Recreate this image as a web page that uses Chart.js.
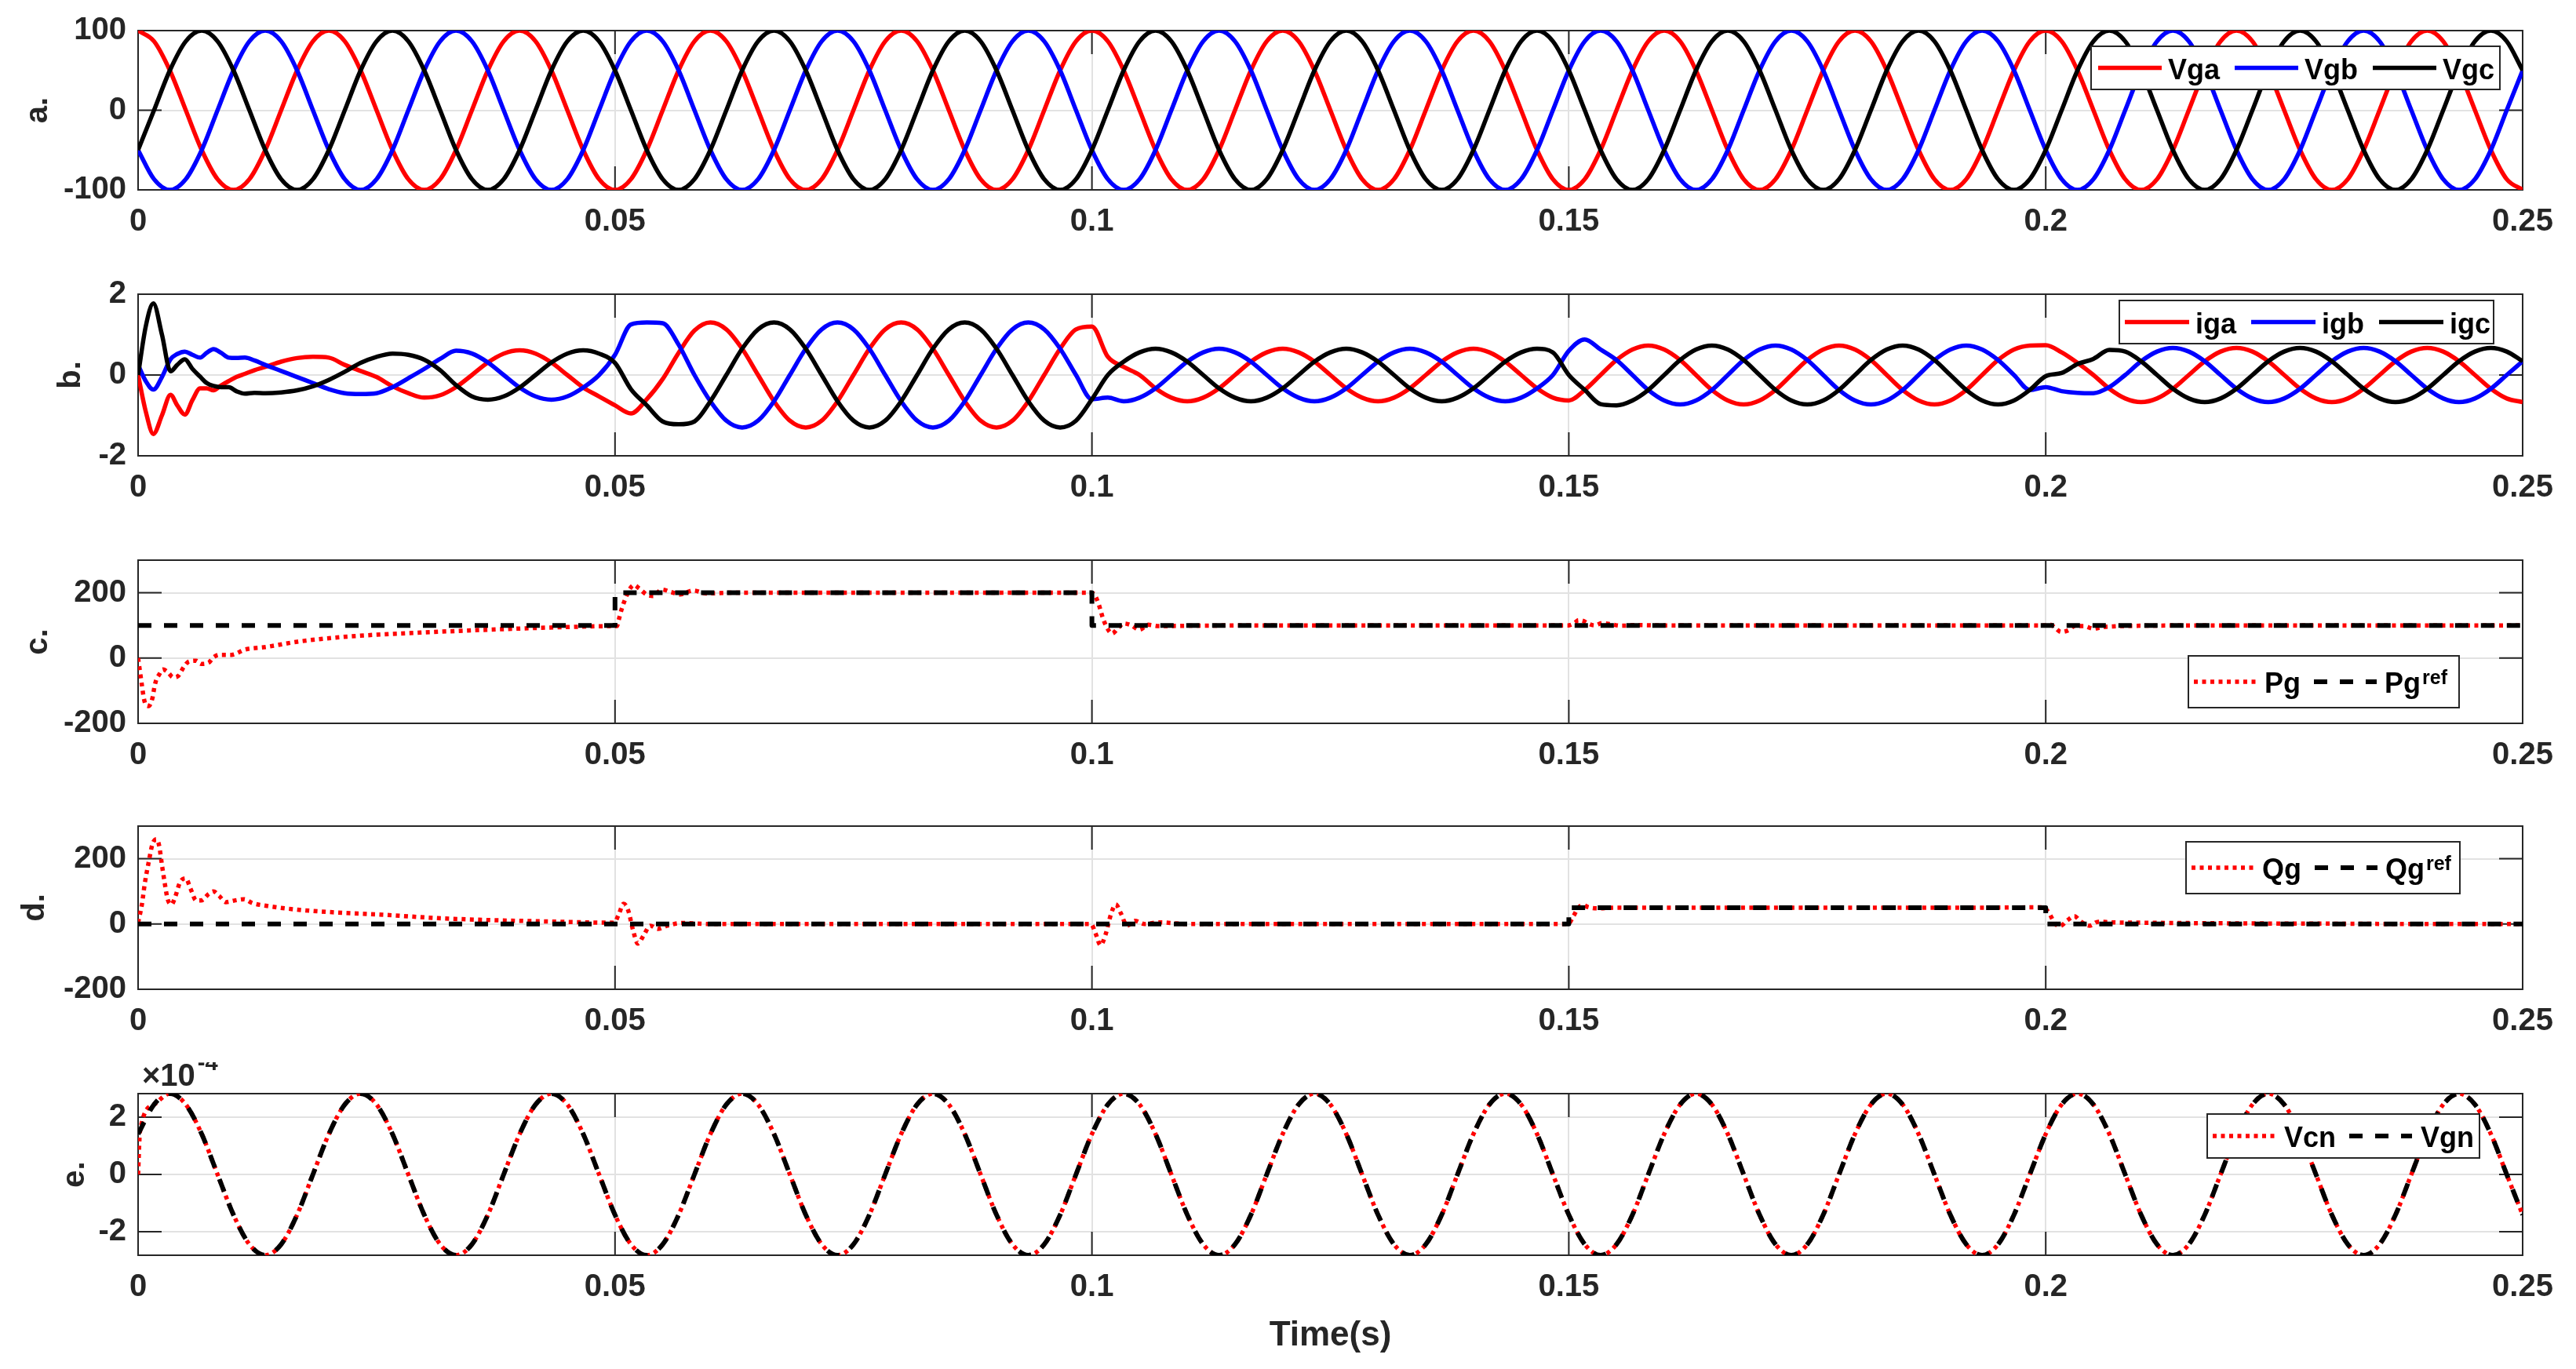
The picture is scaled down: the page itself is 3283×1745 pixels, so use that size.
<!DOCTYPE html>
<html>
<head>
<meta charset="utf-8">
<script src="https://cdn.jsdelivr.net/npm/chart.js@4.4.1/dist/chart.umd.min.js"></script>
<style>
  html, body { margin: 0; padding: 0; background: #fff; }
  body { position: relative; width: 3283px; height: 1745px; overflow: hidden; }
  canvas { position: absolute; left: 0; }
</style>
</head>
<body>
<canvas id="pa" width="3283" height="332" style="top:0px"></canvas>
<canvas id="pb" width="3283" height="336" style="top:335px"></canvas>
<canvas id="pc" width="3283" height="338" style="top:674px"></canvas>
<canvas id="pd" width="3283" height="338" style="top:1013px"></canvas>
<canvas id="pe" width="3283" height="391" style="top:1354px"></canvas>
<script>
const FONT = "'Liberation Sans', Arial, Helvetica, sans-serif";
const INK = '#262626';
const GRID = '#e2e2e2';

// time axis (s)
const xTicks = [0, 0.05, 0.1, 0.15, 0.2, 0.25];
const xTickLabels = ['0', '0.05', '0.1', '0.15', '0.2', '0.25'];

// sample times, every 1/600 s
const tA = [
  0,0.00167,0.00333,0.005,0.00667,0.00833,0.01,0.01167,0.01333,0.015,0.01667,0.01833,
  0.02,0.02167,0.02333,0.025,0.02667,0.02833,0.03,0.03167,0.03333,0.035,0.03667,0.03833,
  0.04,0.04167,0.04333,0.045,0.04667,0.04833,0.05,0.05167,0.05333,0.055,0.05667,0.05833,
  0.06,0.06167,0.06333,0.065,0.06667,0.06833,0.07,0.07167,0.07333,0.075,0.07667,0.07833,
  0.08,0.08167,0.08333,0.085,0.08667,0.08833,0.09,0.09167,0.09333,0.095,0.09667,0.09833,
  0.1,0.10167,0.10333,0.105,0.10667,0.10833,0.11,0.11167,0.11333,0.115,0.11667,0.11833,
  0.12,0.12167,0.12333,0.125,0.12667,0.12833,0.13,0.13167,0.13333,0.135,0.13667,0.13833,
  0.14,0.14167,0.14333,0.145,0.14667,0.14833,0.15,0.15167,0.15333,0.155,0.15667,0.15833,
  0.16,0.16167,0.16333,0.165,0.16667,0.16833,0.17,0.17167,0.17333,0.175,0.17667,0.17833,
  0.18,0.18167,0.18333,0.185,0.18667,0.18833,0.19,0.19167,0.19333,0.195,0.19667,0.19833,
  0.2,0.20167,0.20333,0.205,0.20667,0.20833,0.21,0.21167,0.21333,0.215,0.21667,0.21833,
  0.22,0.22167,0.22333,0.225,0.22667,0.22833,0.23,0.23167,0.23333,0.235,0.23667,0.23833,
  0.24,0.24167,0.24333,0.245,0.24667,0.24833,0.25
];

// a. grid voltages
const vga = [
  100,86.6,50,0,-50,-86.6,-100,-86.6,-50,0,50,86.6, 100,86.6,50,0,-50,-86.6,-100,-86.6,-50,0,50,86.6,
  100,86.6,50,0,-50,-86.6,-100,-86.6,-50,0,50,86.6, 100,86.6,50,0,-50,-86.6,-100,-86.6,-50,0,50,86.6,
  100,86.6,50,0,-50,-86.6,-100,-86.6,-50,0,50,86.6, 100,86.6,50,0,-50,-86.6,-100,-86.6,-50,0,50,86.6,
  100,86.6,50,0,-50,-86.6,-100,-86.6,-50,0,50,86.6, 100,86.6,50,0,-50,-86.6,-100,-86.6,-50,0,50,86.6,
  100,86.6,50,0,-50,-86.6,-100,-86.6,-50,0,50,86.6, 100,86.6,50,0,-50,-86.6,-100,-86.6,-50,0,50,86.6,
  100,86.6,50,0,-50,-86.6,-100,-86.6,-50,0,50,86.6, 100,86.6,50,0,-50,-86.6,-100,-86.6,-50,0,50,86.6,
  100,86.6,50,0,-50,-86.6,-100
];
const vgb = [
  -50,-86.6,-100,-86.6,-50,0,50,86.6,100,86.6,50,0, -50,-86.6,-100,-86.6,-50,0,50,86.6,100,86.6,50,0,
  -50,-86.6,-100,-86.6,-50,0,50,86.6,100,86.6,50,0, -50,-86.6,-100,-86.6,-50,0,50,86.6,100,86.6,50,0,
  -50,-86.6,-100,-86.6,-50,0,50,86.6,100,86.6,50,0, -50,-86.6,-100,-86.6,-50,0,50,86.6,100,86.6,50,0,
  -50,-86.6,-100,-86.6,-50,0,50,86.6,100,86.6,50,0, -50,-86.6,-100,-86.6,-50,0,50,86.6,100,86.6,50,0,
  -50,-86.6,-100,-86.6,-50,0,50,86.6,100,86.6,50,0, -50,-86.6,-100,-86.6,-50,0,50,86.6,100,86.6,50,0,
  -50,-86.6,-100,-86.6,-50,0,50,86.6,100,86.6,50,0, -50,-86.6,-100,-86.6,-50,0,50,86.6,100,86.6,50,0,
  -50,-86.6,-100,-86.6,-50,0,50
];
const vgc = [
  -50,0,50,86.6,100,86.6,50,0,-50,-86.6,-100,-86.6, -50,0,50,86.6,100,86.6,50,0,-50,-86.6,-100,-86.6,
  -50,0,50,86.6,100,86.6,50,0,-50,-86.6,-100,-86.6, -50,0,50,86.6,100,86.6,50,0,-50,-86.6,-100,-86.6,
  -50,0,50,86.6,100,86.6,50,0,-50,-86.6,-100,-86.6, -50,0,50,86.6,100,86.6,50,0,-50,-86.6,-100,-86.6,
  -50,0,50,86.6,100,86.6,50,0,-50,-86.6,-100,-86.6, -50,0,50,86.6,100,86.6,50,0,-50,-86.6,-100,-86.6,
  -50,0,50,86.6,100,86.6,50,0,-50,-86.6,-100,-86.6, -50,0,50,86.6,100,86.6,50,0,-50,-86.6,-100,-86.6,
  -50,0,50,86.6,100,86.6,50,0,-50,-86.6,-100,-86.6, -50,0,50,86.6,100,86.6,50,0,-50,-86.6,-100,-86.6,
  -50,0,50,86.6,100,86.6,50
];

// b. grid currents (start-up samples, then the 1/600 s grid from 0.01333 s)
const tBStart = [0,0.0008,0.0016,0.0025,0.0034,0.0041,0.0049,0.0057,0.0065,0.0072,0.0079,0.0087,0.0095,0.0103,0.0112,0.0122];
const iga = [
  0,-0.9,-1.46,-1.0,-0.49,-0.75,-0.98,-0.62,-0.33,-0.33,-0.38,-0.26,-0.15,-0.05,0.03,0.12,
  0.2,0.33,0.42,0.45,0.43,0.25,0.1,-0.05,-0.28,-0.45,-0.56,-0.5,-0.3,
  0,0.31,0.53,0.61,0.53,0.31,0,-0.31,-0.53,
  -0.75,-0.95,-0.6,-0.1,0.55,1.1,
  1.3,1.13,0.65,0,-0.65,-1.13,-1.3,-1.13,-0.65,0,0.65,1.13,
  1.3,1.13,0.65,0,-0.65,-1.13,-1.3,-1.13,-0.65,0,0.65,1.13,
  1.2,0.45,0.2,0,-0.33,-0.56,-0.65,-0.56,-0.33,0,0.33,0.56,
  0.65,0.56,0.33,0,-0.33,-0.56,-0.65,-0.56,-0.33,0,0.33,0.56,
  0.65,0.56,0.33,0,-0.33,-0.56,
  -0.63,-0.37,0,0.37,0.63,0.73, 0.63,0.37,0,-0.37,-0.63,-0.73,
  -0.63,-0.37,0,0.37,0.63,0.73, 0.63,0.37,0,-0.37,-0.63,-0.73,
  -0.63,-0.37,0,0.37,0.63,0.73,
  0.74,0.56,0.3,0,-0.34,-0.58,-0.67,-0.58,-0.34,0,0.34,0.58,
  0.67,0.58,0.34,0,-0.34,-0.58,-0.67,-0.58,-0.34,0,0.34,0.58,
  0.67,0.58,0.34,0,-0.34,-0.58,-0.67
];
const igb = [
  0.25,-0.15,-0.36,-0.05,0.39,0.52,0.58,0.5,0.43,0.55,0.64,0.55,0.43,0.42,0.43,0.36,
  0.25,0.1,-0.05,-0.2,-0.35,-0.45,-0.47,-0.45,-0.3,-0.08,0.15,0.4,0.6,
  0.53,0.31,0,-0.31,-0.53,-0.61,-0.53,-0.31,0,
  0.5,1.25,1.3,1.28,0.75,0,
  -0.65,-1.13,-1.3,-1.13,-0.65,0,0.65,1.13,1.3,1.13,0.65,0,
  -0.65,-1.13,-1.3,-1.13,-0.65,0,0.65,1.13,1.3,1.13,0.65,0,
  -0.6,-0.56,-0.65,-0.56,-0.33,0,0.33,0.56,0.65,0.56,0.33,0,
  -0.33,-0.56,-0.65,-0.56,-0.33,0,0.33,0.56,0.65,0.56,0.33,0,
  -0.33,-0.56,-0.65,-0.56,-0.33,0,
  0.6,0.88,0.63,0.37,0,-0.37, -0.63,-0.73,-0.63,-0.37,0,0.37,
  0.63,0.73,0.63,0.37,0,-0.37, -0.63,-0.73,-0.63,-0.37,0,0.37,
  0.63,0.73,0.63,0.37,0,-0.37,
  -0.3,-0.4,-0.44,-0.45,-0.3,0,0.34,0.58,0.67,0.58,0.34,0,
  -0.34,-0.58,-0.67,-0.58,-0.34,0,0.34,0.58,0.67,0.58,0.34,0,
  -0.34,-0.58,-0.67,-0.58,-0.34,0,0.34
];
const igc = [
  0,1.2,1.77,1.0,0.09,0.25,0.39,0.15,-0.04,-0.2,-0.27,-0.3,-0.3,-0.4,-0.46,-0.44,
  -0.45,-0.43,-0.38,-0.28,-0.12,0.08,0.3,0.45,0.53,0.5,0.38,0.12,-0.25,
  -0.53,-0.61,-0.53,-0.31,0,0.31,0.53,0.61,0.53,
  0.3,-0.35,-0.75,-1.15,-1.22,-1.15,
  -0.65,0,0.65,1.13,1.3,1.13,0.65,0,-0.65,-1.13,-1.3,-1.13,
  -0.65,0,0.65,1.13,1.3,1.13,0.65,0,-0.65,-1.13,-1.3,-1.13,
  -0.6,0,0.33,0.56,0.65,0.56,0.33,0,-0.33,-0.56,-0.65,-0.56,
  -0.33,0,0.33,0.56,0.65,0.56,0.33,0,-0.33,-0.56,-0.65,-0.56,
  -0.33,0,0.33,0.56,0.65,0.56,
  0,-0.37,-0.72,-0.75,-0.63,-0.37, 0,0.37,0.63,0.73,0.63,0.37,
  0,-0.37,-0.63,-0.73,-0.63,-0.37, 0,0.37,0.63,0.73,0.63,0.37,
  0,-0.37,-0.63,-0.73,-0.63,-0.37,
  -0.03,0.05,0.27,0.4,0.62,0.58,0.34,0,-0.34,-0.58,-0.67,-0.58,
  -0.34,0,0.34,0.58,0.67,0.58,0.34,0,-0.34,-0.58,-0.67,-0.58,
  -0.34,0,0.34,0.58,0.67,0.58,0.34
];

// c. active power
const tPg = [
  0,0.0002,0.0004,0.0006,0.0008,0.0011,0.0015,0.0017,0.0019,0.0022,0.0026,0.0031,0.0037,0.0042,0.0048,0.0053,
  0.0061,0.0066,0.0074,0.0079,0.0085,0.0098,0.0112,0.0134,0.0167,0.0204,0.0241,0.0296,0.0351,0.0406,0.045,0.0499,
  0.0502,0.0504,0.0507,0.0511,0.0516,0.052,0.0525,0.0533,0.054,0.0549,0.0559,0.0568,0.0582,0.0596,0.062,0.07,0.08,0.09,0.0999,
  0.10025,0.1007,0.1012,0.1017,0.1021,0.1027,0.1033,0.104,0.105,0.1059,0.107,0.11,0.12,0.13,0.14,0.1499,
  0.1503,0.1507,0.151,0.1515,0.152,0.1527,0.1535,0.1545,0.1555,0.157,0.16,0.17,0.18,0.19,0.1999,
  0.2005,0.201,0.2016,0.2025,0.203,0.204,0.205,0.2058,0.207,0.21,0.22,0.23,0.24,0.25
];
const pg = [
  0,-42,-83,-123,-143,-147,-123,-91,-67,-51,-35,-43,-59,-55,-27,-11,
  -8,-18,-14,2,10,10,26,34,50,62,70,78,85,91,95,98,
  98,118,150,183,214,224,214,195,190,210,202,195,207,198,200,200,200,200,200,
  195,166,118,87,75,90,106,102,87,102,98,99,100,100,100,100,
  103,110,116,114,106,100,107,103,99,101,100,100,100,100,100,
  102,92,80,87,98,98,90,94,97,99,100,100,100,100
];
const tPgRef = [0, 0.05, 0.05, 0.1, 0.1, 0.25];
const pgRef = [100, 100, 200, 200, 100, 100];

// d. reactive power
const tQg = [
  0,0.0004,0.0007,0.0011,0.0015,0.0019,0.0022,0.0025,0.0028,0.0031,0.0035,0.0039,0.0044,0.005,0.0055,0.0061,
  0.0066,0.0074,0.0079,0.0085,0.0092,0.0101,0.0111,0.012,0.0134,0.0167,0.0204,0.0259,0.0314,0.0369,0.0428,0.0499,
  0.0504,0.0509,0.0514,0.0519,0.0524,0.053,0.0537,0.0545,0.0555,0.057,0.06,0.07,0.08,0.09,0.0999,
  0.1004,0.1009,0.1014,0.102,0.1025,0.103,0.1037,0.1045,0.1055,0.107,0.11,0.12,0.13,0.14,0.1499,
  0.1505,0.151,0.1515,0.152,0.153,0.155,0.16,0.17,0.18,0.19,0.1997,
  0.2003,0.201,0.2015,0.2023,0.203,0.2037,0.2046,0.2055,0.207,0.21,0.22,0.23,0.24,0.25
];
const qg = [
  4,60,124,188,244,260,241,181,124,76,60,84,128,140,108,72,
  72,92,100,86,67,72,76,64,56,44,36,28,18,12,8,4,
  30,62,40,-20,-60,-35,-5,-15,-5,3,0,0,0,0,0,
  -30,-65,-35,30,60,35,-5,10,0,5,0,0,0,0,0,
  25,50,58,52,48,50,50,50,50,50,51,
  36,0,-6,12,24,7,-5,7,5,4,2,1,0,0
];
const tQgRef = [0, 0.15, 0.15, 0.2, 0.2, 0.25];
const qgRef = [0, 0, 50, 50, 0, 0];

// e. neutral voltages (x 1e-4)
const tVcn = [0, 0.0002].concat(tA.slice(1));
const vcn = [
  0,1.5,2.44,2.82,2.44,1.41,0,-1.41,-2.44,-2.82,-2.44,-1.41,0,
  1.41,2.44,2.82,2.44,1.41,0,-1.41,-2.44,-2.82,-2.44,-1.41,0, 1.41,2.44,2.82,2.44,1.41,0,-1.41,-2.44,-2.82,-2.44,-1.41,0,
  1.41,2.44,2.82,2.44,1.41,0,-1.41,-2.44,-2.82,-2.44,-1.41,0, 1.41,2.44,2.82,2.44,1.41,0,-1.41,-2.44,-2.82,-2.44,-1.41,0,
  1.41,2.44,2.82,2.44,1.41,0,-1.41,-2.44,-2.82,-2.44,-1.41,0, 1.41,2.44,2.82,2.44,1.41,0,-1.41,-2.44,-2.82,-2.44,-1.41,0,
  1.41,2.44,2.82,2.44,1.41,0,-1.41,-2.44,-2.82,-2.44,-1.41,0, 1.41,2.44,2.82,2.44,1.41,0,-1.41,-2.44,-2.82,-2.44,-1.41,0,
  1.41,2.44,2.82,2.44,1.41,0,-1.41,-2.44,-2.82,-2.44,-1.41,0, 1.41,2.44,2.82,2.44,1.41,0,-1.41,-2.44,-2.82,-2.44,-1.41,0,
  1.41,2.44,2.82,2.44,1.41,0,-1.41,-2.44,-2.82,-2.44,-1.41,0,
  1.41,2.44,2.82,2.44,1.41,0,-1.41
];
const vgn = [
  1.41,2.44,2.82,2.44,1.41,0,-1.41,-2.44,-2.82,-2.44,-1.41,0, 1.41,2.44,2.82,2.44,1.41,0,-1.41,-2.44,-2.82,-2.44,-1.41,0,
  1.41,2.44,2.82,2.44,1.41,0,-1.41,-2.44,-2.82,-2.44,-1.41,0, 1.41,2.44,2.82,2.44,1.41,0,-1.41,-2.44,-2.82,-2.44,-1.41,0,
  1.41,2.44,2.82,2.44,1.41,0,-1.41,-2.44,-2.82,-2.44,-1.41,0, 1.41,2.44,2.82,2.44,1.41,0,-1.41,-2.44,-2.82,-2.44,-1.41,0,
  1.41,2.44,2.82,2.44,1.41,0,-1.41,-2.44,-2.82,-2.44,-1.41,0, 1.41,2.44,2.82,2.44,1.41,0,-1.41,-2.44,-2.82,-2.44,-1.41,0,
  1.41,2.44,2.82,2.44,1.41,0,-1.41,-2.44,-2.82,-2.44,-1.41,0, 1.41,2.44,2.82,2.44,1.41,0,-1.41,-2.44,-2.82,-2.44,-1.41,0,
  1.41,2.44,2.82,2.44,1.41,0,-1.41,-2.44,-2.82,-2.44,-1.41,0, 1.41,2.44,2.82,2.44,1.41,0,-1.41,-2.44,-2.82,-2.44,-1.41,0,
  1.41,2.44,2.82,2.44,1.41,0,-1.41
];

function xy(ts, vs) {
  return vs.map((v, i) => ({ x: ts[i], y: v }));
}

const SOLID = { borderWidth: 5.5, cubicInterpolationMode: 'monotone' };
const DOT = { borderColor: '#ff0000', borderWidth: 5.5, borderDash: [5, 5.5], cubicInterpolationMode: 'monotone' };
const DASH = { borderColor: '#000000', borderWidth: 6, borderDash: [17, 16], tension: 0 };

// box, inward ticks, legend and exponent label, MATLAB-like
const frame = {
  id: 'frame',
  beforeDatasetsDraw(chart) {
    const { ctx, chartArea: a, scales: { x, y } } = chart;
    ctx.save();
    ctx.strokeStyle = INK;
    ctx.lineWidth = 2;
    ctx.beginPath();
    x.ticks.forEach(t => {
      const px = x.getPixelForValue(t.value);
      ctx.moveTo(px, a.top); ctx.lineTo(px, a.top + 30);
      ctx.moveTo(px, a.bottom); ctx.lineTo(px, a.bottom - 30);
    });
    y.ticks.forEach(t => {
      const py = y.getPixelForValue(t.value);
      ctx.moveTo(a.left, py); ctx.lineTo(a.left + 30, py);
      ctx.moveTo(a.right, py); ctx.lineTo(a.right - 30, py);
    });
    ctx.stroke();
    ctx.strokeRect(a.left, a.top, a.right - a.left, a.bottom - a.top);
    ctx.restore();
  },
  afterDraw(chart, args, opts) {
    const { ctx, chartArea: a } = chart;
    ctx.save();
    if (opts.exponent) {
      ctx.fillStyle = INK;
      ctx.textBaseline = 'alphabetic';
      ctx.textAlign = 'left';
      ctx.font = 'bold 40px ' + FONT;
      ctx.fillText('\u00d710', a.left + 5, a.top - 10);
      const w = ctx.measureText('\u00d710').width;
      ctx.font = 'bold 29px ' + FONT;
      ctx.fillText(opts.exponent, a.left + 8 + w, a.top - 30);
    }
    const lg = opts.legend;
    if (lg) {
      const x0 = a.right - lg.right - lg.w;
      const y0 = a.top + lg.top;
      const cy = y0 + lg.h / 2;
      ctx.fillStyle = '#fff';
      ctx.fillRect(x0, y0, lg.w, lg.h);
      ctx.strokeStyle = INK;
      ctx.lineWidth = 2;
      ctx.strokeRect(x0, y0, lg.w, lg.h);
      let x = x0 + lg.pad;
      lg.items.forEach(i => {
        const ds = chart.data.datasets[i];
        ctx.strokeStyle = ds.borderColor;
        ctx.lineWidth = ds.borderWidth;
        ctx.setLineDash(ds.borderDash || []);
        ctx.lineCap = 'butt';
        ctx.beginPath();
        ctx.moveTo(x, cy); ctx.lineTo(x + lg.lineLen, cy);
        ctx.stroke();
        ctx.setLineDash([]);
        x += lg.lineLen + lg.gap;
        ctx.fillStyle = '#000';
        ctx.textAlign = 'left';
        ctx.textBaseline = 'alphabetic';
        ctx.font = 'bold 36px ' + FONT;
        ctx.fillText(ds.label, x, cy + 14);
        x += ctx.measureText(ds.label).width;
        if (ds.sup) {
          ctx.font = 'bold 25px ' + FONT;
          ctx.fillText(ds.sup, x + 2, cy + 3);
          x += ctx.measureText(ds.sup).width + 2;
        }
        x += lg.itemGap;
      });
    }
    ctx.restore();
  }
};

function makeChart(id, cfg) {
  const tickFont = { family: FONT, size: 40, weight: 'bold' };
  return new Chart(document.getElementById(id), {
    type: 'line',
    data: { datasets: cfg.datasets },
    options: {
      responsive: false,
      animation: false,
      events: [],
      layout: { padding: { top: cfg.padTop, right: 68, left: 0, bottom: 0 } },
      elements: { point: { radius: 0 }, line: { borderCapStyle: 'butt', borderJoinStyle: 'round' } },
      plugins: { legend: { display: false }, tooltip: { enabled: false }, frame: cfg.frame },
      scales: {
        x: {
          type: 'linear', min: 0, max: 0.25,
          afterBuildTicks: s => { s.ticks = xTicks.map(v => ({ value: v })); },
          afterFit: s => { s.height = cfg.axisH; },
          grid: { color: GRID, lineWidth: 2, drawTicks: false },
          border: { display: false },
          ticks: { padding: 17, color: INK, font: tickFont, autoSkip: false, maxRotation: 0,
                   callback: (v, i) => xTickLabels[i] },
          title: cfg.xTitle || { display: false }
        },
        y: {
          type: 'linear', min: cfg.yMin, max: cfg.yMax,
          afterBuildTicks: s => { s.ticks = cfg.yTicks.map(v => ({ value: v })); },
          afterFit: s => { s.width = 176; },
          grid: { color: GRID, lineWidth: 2, drawTicks: false },
          border: { display: false },
          ticks: { padding: 15, color: INK, font: tickFont, callback: (v, i) => cfg.yTickLabels[i] },
          title: { display: true, text: cfg.yTitle, color: INK, font: tickFont,
                   padding: { top: cfg.yTitlePad, bottom: 0 } }
        }
      }
    },
    plugins: [frame]
  });
}

makeChart('pa', {
  padTop: 37, axisH: 90, yMin: -100, yMax: 100,
  yTicks: [-100, 0, 100], yTickLabels: ['-100', '0', '100'], yTitle: 'a.', yTitlePad: 25,
  datasets: [
    { label: 'Vga', data: xy(tA, vga), borderColor: '#ff0000', order: 3, ...SOLID },
    { label: 'Vgb', data: xy(tA, vgb), borderColor: '#0000ff', order: 2, ...SOLID },
    { label: 'Vgc', data: xy(tA, vgc), borderColor: '#000000', order: 1, ...SOLID }
  ],
  frame: { legend: { right: 29, top: 20, w: 521, h: 55, pad: 9, lineLen: 81, gap: 8, itemGap: 19, items: [0, 1, 2] } }
});

const tB = tBStart.concat(tA.slice(8));
makeChart('pb', {
  padTop: 40, axisH: 90, yMin: -2, yMax: 2,
  yTicks: [-2, 0, 2], yTickLabels: ['-2', '0', '2'], yTitle: 'b.', yTitlePad: 67,
  datasets: [
    { label: 'iga', data: xy(tB, iga), borderColor: '#ff0000', order: 3, ...SOLID },
    { label: 'igb', data: xy(tB, igb), borderColor: '#0000ff', order: 2, ...SOLID },
    { label: 'igc', data: xy(tB, igc), borderColor: '#000000', order: 1, ...SOLID }
  ],
  frame: { legend: { right: 37, top: 8, w: 477, h: 55, pad: 7, lineLen: 82, gap: 8, itemGap: 19, items: [0, 1, 2] } }
});

makeChart('pc', {
  padTop: 40, axisH: 90, yMin: -200, yMax: 300,
  yTicks: [-200, 0, 200], yTickLabels: ['-200', '0', '200'], yTitle: 'c.', yTitlePad: 25,
  datasets: [
    { label: 'Pg', data: xy(tPg, pg), order: 2, ...DOT },
    { label: 'Pg', sup: 'ref', data: xy(tPgRef, pgRef), order: 1, ...DASH }
  ],
  frame: { legend: { right: 81, top: 122, w: 345, h: 66, pad: 7, lineLen: 80, gap: 10, itemGap: 17, items: [0, 1] } }
});

makeChart('pd', {
  padTop: 40, axisH: 90, yMin: -200, yMax: 300,
  yTicks: [-200, 0, 200], yTickLabels: ['-200', '0', '200'], yTitle: 'd.', yTitlePad: 21,
  datasets: [
    { label: 'Qg', data: xy(tQg, qg), order: 2, ...DOT },
    { label: 'Qg', sup: 'ref', data: xy(tQgRef, qgRef), order: 1, ...DASH }
  ],
  frame: { legend: { right: 80, top: 20, w: 349, h: 66, pad: 7, lineLen: 80, gap: 10, itemGap: 17, items: [0, 1] } }
});

makeChart('pe', {
  padTop: 40, axisH: 145, yMin: -2.82, yMax: 2.82,
  yTicks: [-2, 0, 2], yTickLabels: ['-2', '0', '2'], yTitle: 'e.', yTitlePad: 72,
  xTitle: { display: true, text: 'Time(s)', color: INK, font: { family: FONT, size: 44, weight: 'bold' },
            padding: { top: 0, bottom: 16 } },
  datasets: [
    { label: 'Vcn', data: xy(tVcn, vcn), order: 2, ...DOT },
    { label: 'Vgn', data: xy(tA, vgn), order: 1, ...DASH, cubicInterpolationMode: 'monotone' }
  ],
  frame: { exponent: '-4', legend: { right: 55, top: 26, w: 347, h: 56, pad: 7, lineLen: 80, gap: 11, itemGap: 17, items: [0, 1] } }
});
</script>
</body>
</html>
